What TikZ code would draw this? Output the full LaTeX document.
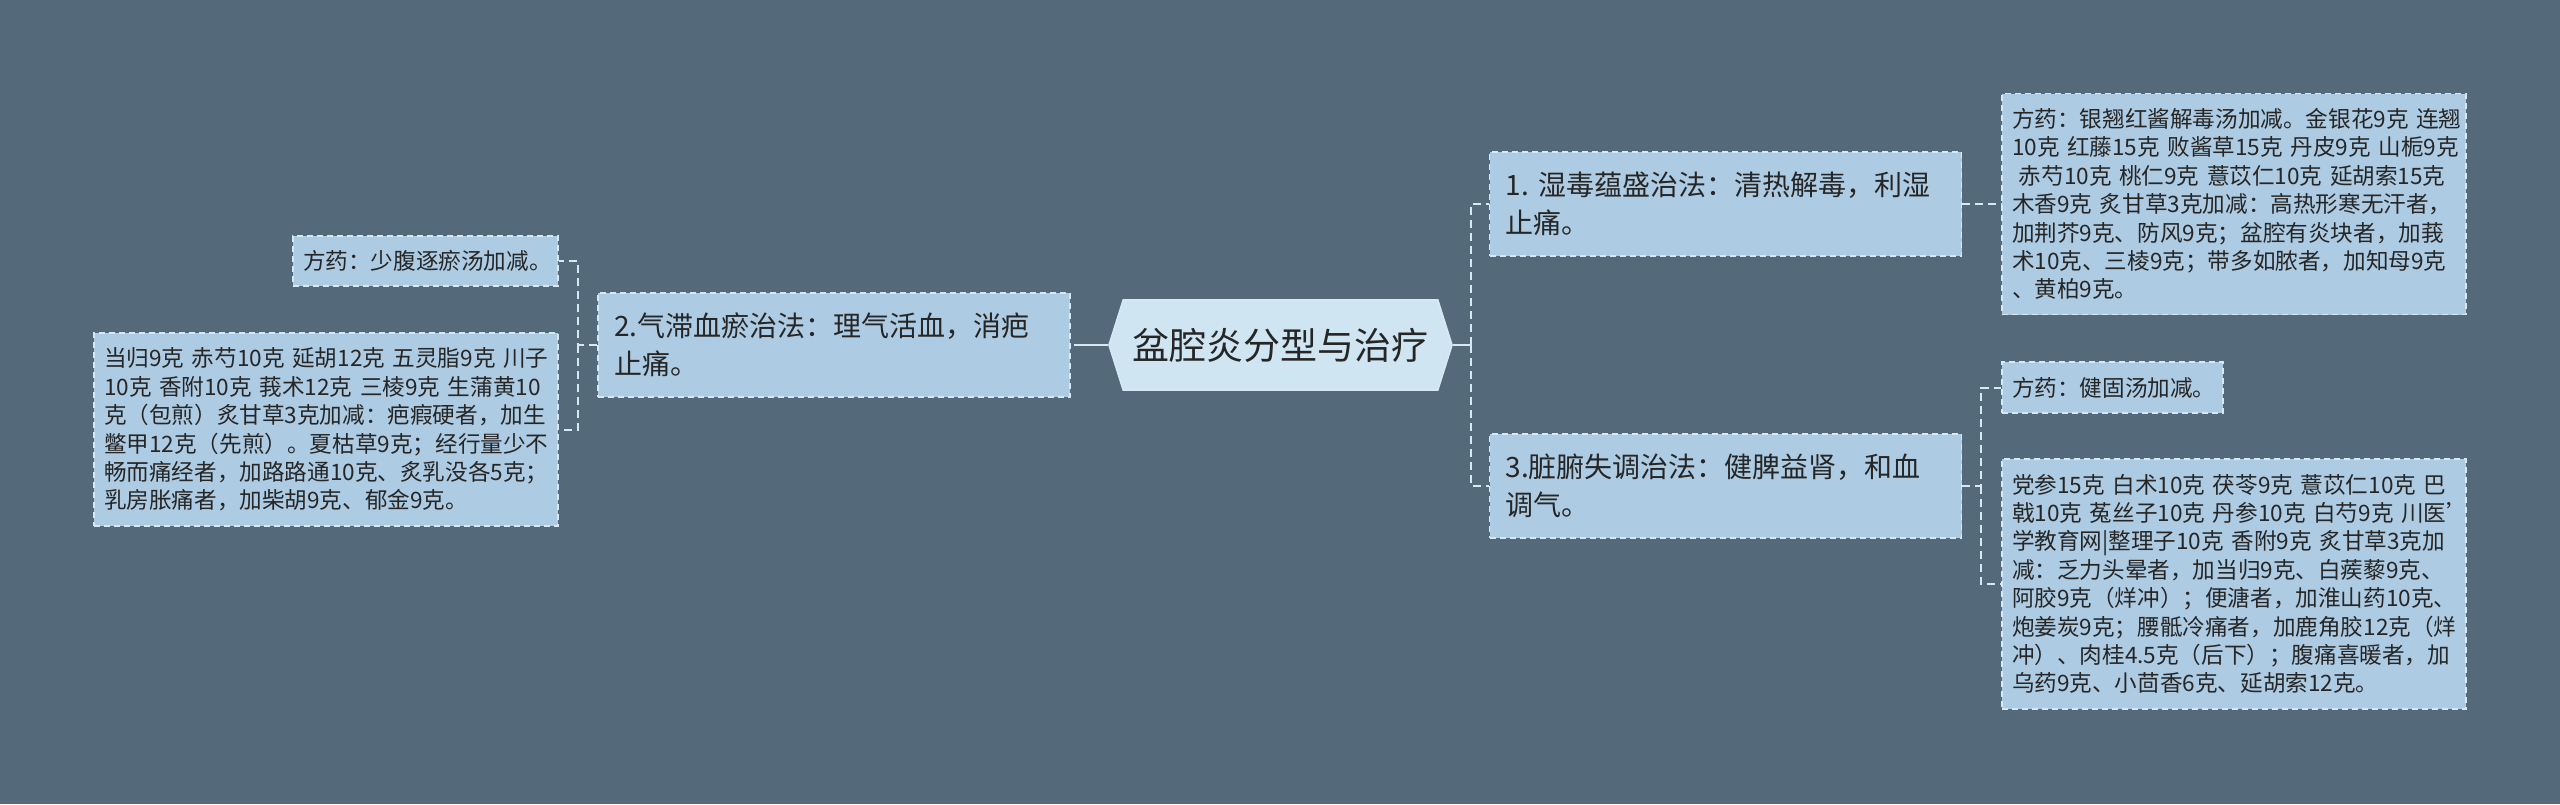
\documentclass[tikz,border=0pt]{standalone}
\usepackage{fontspec}
\setmainfont{Noto Sans CJK SC}
\usepackage{tikz}
\usetikzlibrary{shapes.symbols}
\definecolor{bgc}{HTML}{546A7B}
\definecolor{boxc}{HTML}{ADCBE2}
\definecolor{rootc}{HTML}{D0E5F2}
\definecolor{edgec}{HTML}{D6E8F3}
\definecolor{txtc}{HTML}{262626}

\begin{document}
\begin{tikzpicture}[x=0.5pt,y=-0.5pt,
    leaf/.style={draw=edgec,line width=0.7pt,dash pattern=on 3pt off 2pt,fill=boxc,text=txtc,
        align=left,inner xsep=5pt,inner ysep=0pt,font=\fontsize{11.3}{14.2}\selectfont},
    branch/.style={draw=edgec,line width=0.7pt,dash pattern=on 3pt off 2pt,fill=boxc,text=txtc,
        align=left,inner xsep=8pt,inner ysep=0pt,text width=220pt,minimum height=52pt,
        font=\fontsize{14}{19}\selectfont},
    rootbox/.style={signal,signal to=west and east,signal pointer angle=145,draw=edgec,
        line width=0.8pt,fill=rootc,text=txtc,inner sep=0pt,minimum width=171.5pt,
        minimum height=45pt,font=\fontsize{18.5}{22}\selectfont},
    link/.style={draw=edgec,line width=1pt,dash pattern=on 4pt off 2.5pt},
    trunk/.style={draw=edgec,line width=1pt}]
    \fill[bgc] (0,0) rectangle (2560,804);
    \node[rootbox] (root) at (1280.5,345) {盆腔炎分型与治疗};
    \node[branch] (n1) at (1725.5,204) {1.~湿毒蕴盛治法：清热解毒，利湿\\止痛。};
    \node[branch] (n2) at (834,345) {2.气滞血瘀治法：理气活血，消疤\\止痛。};
    \node[branch] (n3) at (1725.5,486) {3.脏腑失调治法：健脾益肾，和血\\调气。};
    \node[leaf,text width=122.5pt,minimum height=25pt] (l1) at (425.5,261) {方药：少腹逐瘀汤加减。};
    \node[leaf,text width=222pt,minimum height=96.5pt] (l2) at (326,429.5) {当归9克~赤芍10克~延胡12克~五灵脂9克~川子\\10克~香附10克~莪术12克~三棱9克~生蒲黄10\\克（包煎）炙甘草3克加减：疤瘕硬者，加生\\鳖甲12克（先煎）。夏枯草9克；经行量少不\\畅而痛经者，加路路通10克、炙乳没各5克；\\乳房胀痛者，加柴胡9克、郁金9克。};
    \node[leaf,text width=222pt,minimum height=110.5pt] (r1) at (2234,204) {方药：银翘红酱解毒汤加减。金银花9克~连翘\\10克~红藤15克~败酱草15克~丹皮9克~山栀9克\\\hspace*{0.3em}赤芍10克~桃仁9克~薏苡仁10克~延胡索15克\\木香9克~炙甘草3克加减：高热形寒无汗者，\\加荆芥9克、防风9克；盆腔有炎块者，加莪\\术10克、三棱9克；带多如脓者，加知母9克\\、黄柏9克。};
    \node[leaf,text width=100.5pt,minimum height=25.5pt] (r2) at (2112.5,387.5) {方药：健固汤加减。};
    \node[leaf,text width=222pt,minimum height=125pt] (r3) at (2234,584) {党参15克~白术10克~茯苓9克~薏苡仁10克~巴\\戟10克~菟丝子10克~丹参10克~白芍9克~川医'\\学教育网|整理子10克~香附9克~炙甘草3克加\\减：乏力头晕者，加当归9克、白蒺藜9克、\\阿胶9克（烊冲）；便溏者，加淮山药10克、\\炮姜炭9克；腰骶冷痛者，加鹿角胶12克（烊\\冲）、肉桂4.5克（后下）；腹痛喜暖者，加\\乌药9克、小茴香6克、延胡索12克。};
    \coordinate (jl) at (1082,345);
    \coordinate (jr) at (1471,345);
    \coordinate (j2) at (578,345);
    \coordinate (j3) at (1981,486);
    \draw[trunk] (root.west) -- (jl);
    \draw[link] (jl) -- (n2.east);
    \draw[trunk] (root.east) -- (jr);
    \draw[link] (jr) |- (n1.west);
    \draw[link] (jr) |- (n3.west);
    \draw[link] (n2.west) -- (j2) |- (l1.east);
    \draw[link] (j2) |- (l2.east);
    \draw[link] (n1.east) -- (r1.west);
    \draw[link] (n3.east) -- (j3) |- (r2.west);
    \draw[link] (j3) |- (r3.west);
\end{tikzpicture}
\end{document}
